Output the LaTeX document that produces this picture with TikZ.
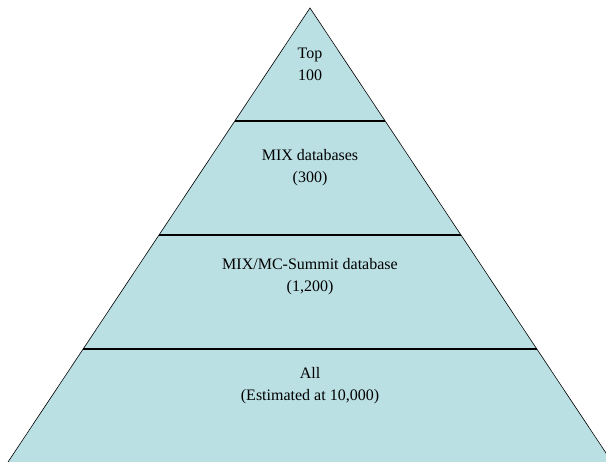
\documentclass[tikz,border=0pt]{standalone}
\usepackage{fontspec}
\setmainfont{Liberation Serif}
\definecolor{pyrfill}{RGB}{187,224,228}
\begin{document}
\begin{tikzpicture}[x=1pt,y=-1pt,
  tiertext/.style={font=\fontsize{16}{22}\selectfont, align=center, inner sep=0pt},
  divider/.style={line width=1.6pt, black}]
\useasboundingbox (0,0) rectangle (606,462);
\clip (0,0) rectangle (606,462);
\coordinate (apex) at (310,8);
\coordinate (bl) at (8,462);
\coordinate (br) at (612,462);
\fill[pyrfill] (apex) -- (bl) -- (br) -- cycle;
\draw[line width=0.6pt] (bl) -- (apex) -- (br);
\draw[divider] (235,121) -- (385,121);
\draw[divider] (159,235) -- (461,235);
\draw[divider] (83,349) -- (537,349);
\node[tiertext] (top) at (310,64) {Top\\100};
\node[tiertext] (mix) at (310,168) {MIX databases\\(300)};
\node[tiertext] (mc) at (310,277) {MIX/MC-Summit database\\(1,200)};
\node[tiertext] (all) at (310,386) {All\\(Estimated at 10,000)};
\end{tikzpicture}
\end{document}
